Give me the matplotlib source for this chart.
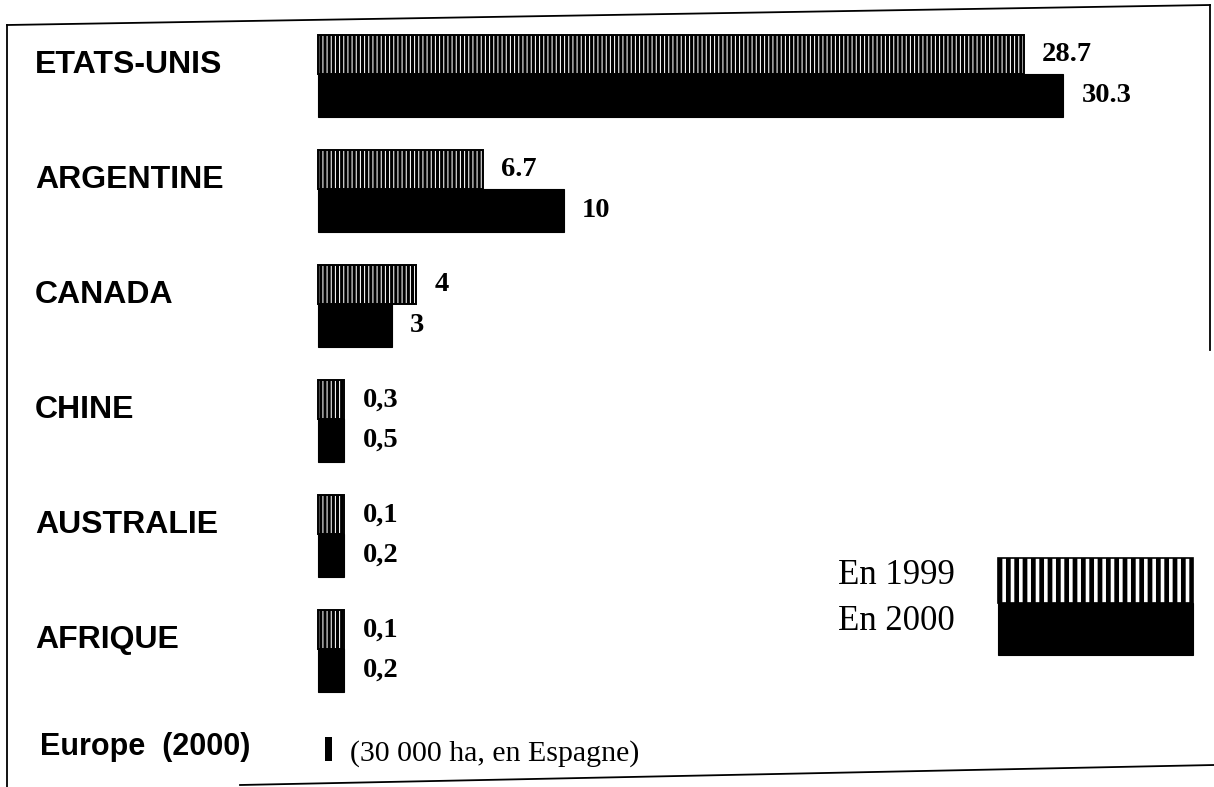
import numpy as np
import matplotlib
matplotlib.use("Agg")
import matplotlib.pyplot as plt
from matplotlib.patches import Rectangle
from matplotlib.lines import Line2D
import matplotlib.transforms as mtransforms

# ---------------- data ----------------
categories = ["ETATS-UNIS", "ARGENTINE", "CANADA", "CHINE", "AUSTRALIE", "AFRIQUE"]
values_1999 = [28.7, 6.7, 4, 0.3, 0.1, 0.1]
values_2000 = [30.3, 10, 3, 0.5, 0.2, 0.2]
labels_1999 = ["28.7", "6.7", "4", "0,3", "0,1", "0,1"]
labels_2000 = ["30.3", "10", "3", "0,5", "0,2", "0,2"]
europe_label = "Europe  (2000)"
europe_value = [0.03]
europe_note = "(30 000 ha, en Espagne)"
legend_labels = ["En 1999", "En 2000"]

# ---------------- figure ----------------
W, H = 1214, 787
fig = plt.figure(figsize=(W / 100, H / 100), dpi=100)
ax = fig.add_axes([0, 0, 1, 1])
ax.set_axis_off()

scale = 24.6  # px per unit
x0 = 318
ax.set_xlim(-x0 / scale, (W - x0) / scale)
ax.set_ylim((H - 74.3) / 115.0, -74.3 / 115.0)

def fx(px):
    return px / W

def fy(py):
    return 1 - py / H

sans = "Liberation Sans"
serif = "Liberation Serif"

min_len = 1.07
y = np.arange(len(categories))
d1999 = np.maximum(values_1999, min_len)
d2000 = np.maximum(values_2000, min_len)
h1, h2 = 0.34, 0.37

def set_hlw(patches, lw):
    for p in patches:
        if hasattr(p, "set_hatch_linewidth"):
            p.set_hatch_linewidth(lw)

plt.rcParams["hatch.linewidth"] = 0.75
b1 = ax.barh(y - h1 / 2, d1999, height=h1, color="black", edgecolor="white",
             hatch="||||", linewidth=0)
set_hlw(b1, 0.75)
ax.barh(y - h1 / 2, d1999, height=h1, fill=False, edgecolor="black", linewidth=1.4)
ax.barh(y + h2 / 2, d2000, height=h2, color="black", edgecolor="black", linewidth=0.8)

for i in range(len(categories)):
    ax.annotate(labels_1999[i], (d1999[i], y[i] - h1 / 2), xytext=(13, 0),
                textcoords="offset points", va="center", ha="left",
                fontsize=20.5, fontweight="bold", family=serif)
    ax.annotate(labels_2000[i], (d2000[i], y[i] + h2 / 2), xytext=(13, 0),
                textcoords="offset points", va="center", ha="left",
                fontsize=20.5, fontweight="bold", family=serif)

# category labels
blend = mtransforms.blended_transform_factory(fig.transFigure, ax.transData)
for i, c in enumerate(categories):
    ax.text(fx(35), y[i] - 0.08, c, transform=blend, fontsize=23,
            fontweight="bold", family=sans, va="center", ha="left")

# Europe row
ye = 5.87
de = np.maximum(europe_value, 0.25)
ax.barh([ye], de, height=0.21, color="black", left=0.3)
ax.text(fx(40), ye - 0.02, europe_label, transform=blend, fontsize=22,
        fontweight="bold", family=sans, va="center", ha="left")
ax.annotate(europe_note, (0.3 + de[0], ye), xytext=(13, -3),
            textcoords="offset points", va="center", ha="left",
            fontsize=21.5, family=serif)

# legend
r1 = Rectangle((fx(998), fy(603)), fx(1193) - fx(998), fy(558) - fy(603),
               transform=fig.transFigure, facecolor="black", edgecolor="white",
               hatch="||", linewidth=0)
set_hlw([r1], 2.6)
fig.add_artist(r1)
fig.add_artist(Rectangle((fx(998), fy(603)), fx(1193) - fx(998), fy(558) - fy(603),
                         transform=fig.transFigure, fill=False, edgecolor="black",
                         linewidth=1.2))
fig.add_artist(Rectangle((fx(998), fy(655)), fx(1193) - fx(998), fy(603) - fy(655),
                         transform=fig.transFigure, facecolor="black",
                         edgecolor="black", linewidth=0.8))
fig.text(fx(838), fy(575), legend_labels[0], fontsize=25, family=serif,
         va="center", ha="left")
fig.text(fx(838), fy(622), legend_labels[1], fontsize=25, family=serif,
         va="center", ha="left")

# frame lines (scanned page border)
for (xa, ya, xb, yb) in [(7, 25, 7, 787), (7, 25, 1210, 5), (1210, 5, 1210, 350),
                         (240, 785, 1214, 765)]:
    fig.add_artist(Line2D([fx(xa), fx(xb)], [fy(ya), fy(yb)],
                          transform=fig.transFigure, color="black", linewidth=1.3))

fig.savefig("out.png", dpi=100)
